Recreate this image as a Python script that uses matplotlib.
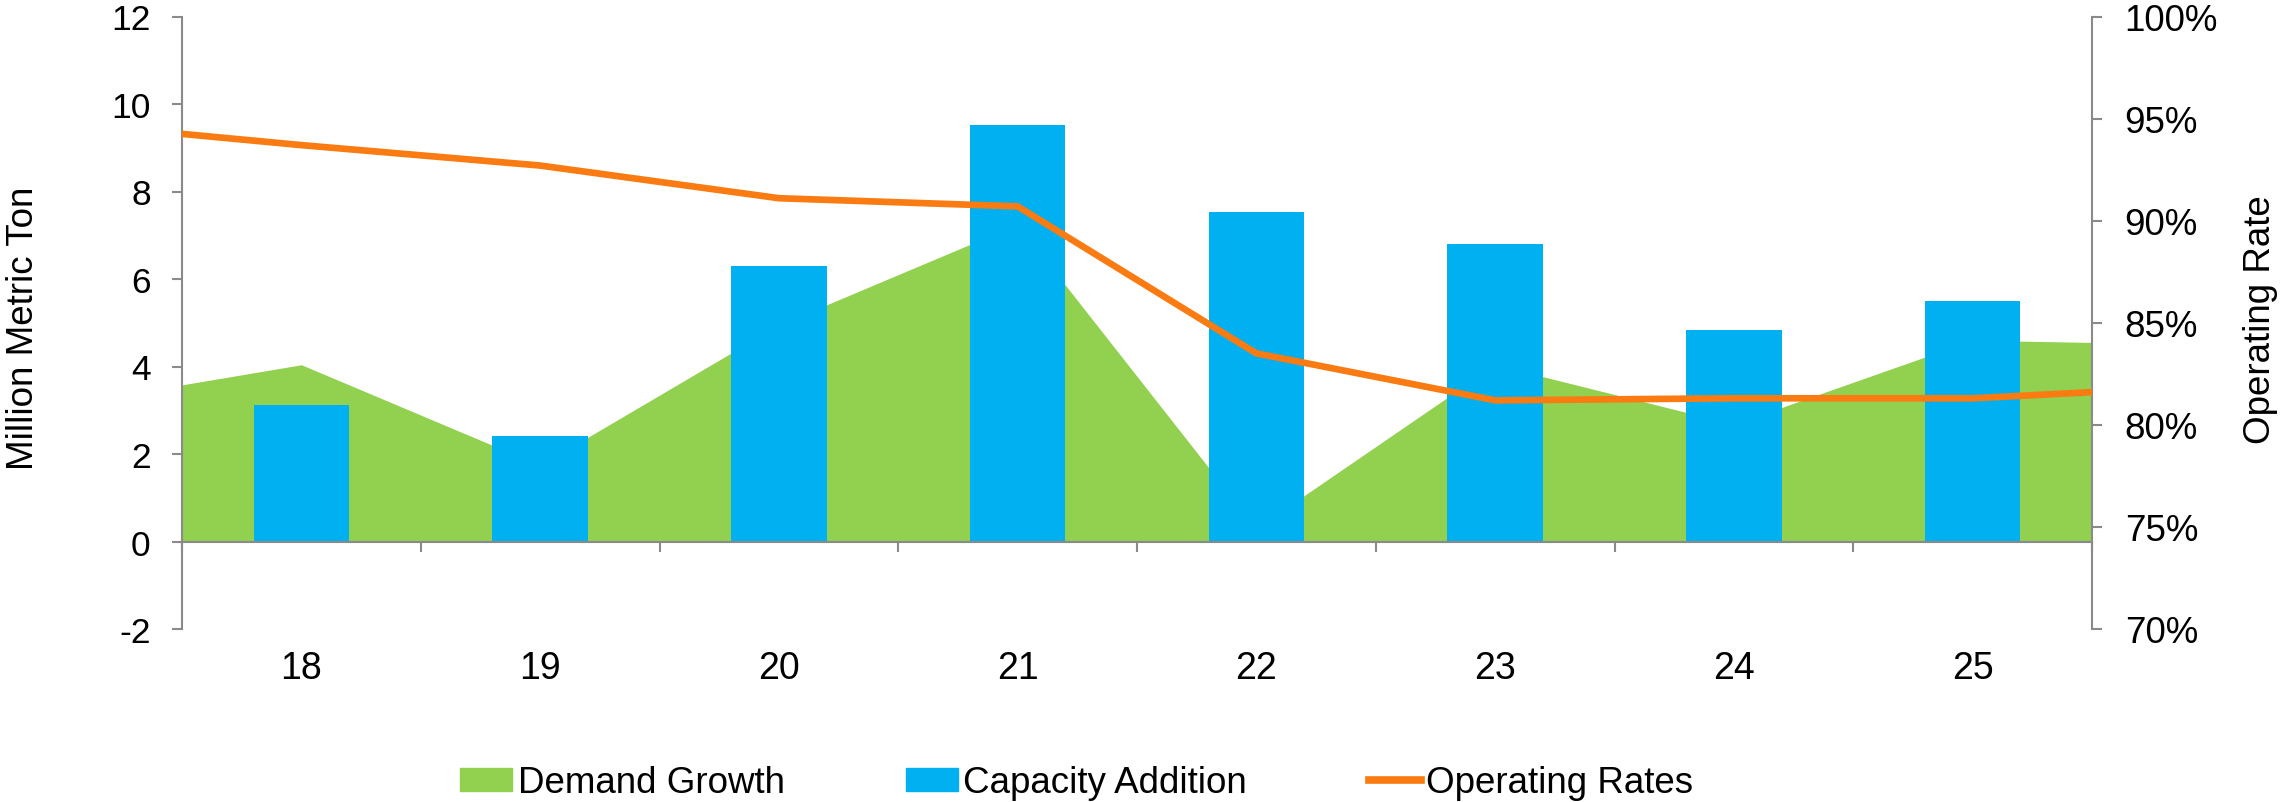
import numpy as np
import matplotlib; matplotlib.use('Agg')
import matplotlib.pyplot as plt
from matplotlib.patches import Patch
from matplotlib.lines import Line2D
plt.rcParams['font.family'] = ['Liberation Sans', 'DejaVu Sans']
plt.rcParams['axes.unicode_minus'] = False

# 창 밖(17, 26) 값은 가장자리에서 보이는 값으로 역산 — 그림은 18~25 구간만 잘라 보여줌
years = [17, 18, 19, 20, 21, 22, 23, 24, 25, 26]
demand = [3.12, 4.04, 1.74, 4.95, 7.25, 0.30, 4.04, 2.68, 4.60, 4.50]      # Demand Growth (Mt)
op_rate = [94.8, 93.7, 92.7, 91.1, 90.7, 83.5, 81.2, 81.3, 81.3, 81.9]    # Operating Rates (%)
bar_years = [18, 19, 20, 21, 22, 23, 24, 25]
capacity = [3.13, 2.41, 6.29, 9.52, 7.53, 6.81, 4.84, 5.49]               # Capacity Addition (Mt)
cat_labels = ['18', '19', '20', '21', '22', '23', '24', '25']

GREEN, BLUE, ORANGE, GRAY = '#92D050', '#00B0F0', '#F97B12', '#8A8A8A'

fig = plt.figure(figsize=(22.86, 8.03), dpi=100)
ax = fig.add_axes([182/2286, 1-630/803, (2092-182)/2286, (630-17.5)/803])
ax.fill_between(years, demand, 0, color=GREEN, lw=0, zorder=1)
ax.bar(bar_years, capacity, width=0.4, color=BLUE, zorder=2)
ax.set_xlim(17.5, 25.5); ax.set_ylim(-2, 12)
ax.set_yticks(np.arange(-2, 13, 2))
ax.set_xticks(bar_years); ax.set_xticklabels(cat_labels)
ax.set_xticks(np.arange(17.5, 25.6, 1), minor=True)
for s in ['top', 'right']: ax.spines[s].set_visible(False)
ax.spines['bottom'].set_position(('data', 0))
for s in ['left', 'bottom']: ax.spines[s].set_color(GRAY); ax.spines[s].set_linewidth(1.5); ax.spines[s].set_zorder(3)
ax.tick_params(axis='y', length=7.5, width=1.5, color=GRAY, labelsize=25.5, pad=15)
ax.tick_params(axis='x', which='major', length=0, labelsize=27, pad=78)
ax.tick_params(axis='x', which='minor', length=7.5, width=1.5, color=GRAY)
ax.set_ylabel('Million Metric Ton', fontsize=26.5)
ax.yaxis.set_label_coords(-0.074, 0.493)

ax2 = ax.twinx()
ax2.plot(years, op_rate, color=ORANGE, lw=4.8, solid_joinstyle='miter', zorder=5)
ax2.set_ylim(70, 100); ax2.set_yticks(np.arange(70, 101, 5))
ax2.set_yticklabels([f'{v}%' for v in range(70, 101, 5)])
for s in ['top', 'left', 'bottom']: ax2.spines[s].set_visible(False)
ax2.spines['right'].set_color(GRAY); ax2.spines['right'].set_linewidth(1.5)
ax2.tick_params(axis='y', length=7.5, width=1.5, color=GRAY, labelsize=26.5, pad=16)
ax2.set_ylabel('Operating Rate', fontsize=26.5)
ax2.yaxis.set_label_coords(1.079, 0.506)

handles = [Patch(color=GREEN, label='Demand Growth'),
           Patch(color=BLUE, label='Capacity Addition'),
           Line2D([0], [0], color=ORANGE, lw=5.5, label='Operating Rates')]
fig.legend(handles=handles, loc='center', bbox_to_anchor=(0.471, 0.024), ncol=3, frameon=False,
           fontsize=26.5, handlelength=1.41, handleheight=0.57, handletextpad=0.15, columnspacing=3.3)
fig.savefig('out.png', dpi=100)
